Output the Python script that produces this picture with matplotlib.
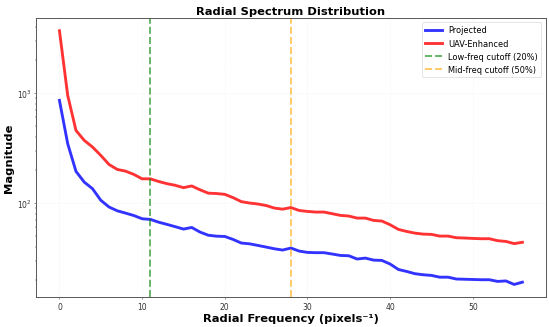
import numpy as np
import matplotlib
matplotlib.use("Agg")
import matplotlib.pyplot as plt

# radial frequency bins
freq = np.arange(57)

projected = [857, 346, 194, 155, 135, 106, 92, 85, 81, 77,
             72, 71, 67, 64, 61, 58, 60, 54.5, 51, 50,
             49.7, 46.7, 43.3, 42.6, 41.2, 39.8, 38.4, 37.4, 39.0, 36.6,
             35.6, 35.4, 35.4, 34.4, 33.4, 33.2, 31.0, 31.6, 30.3, 30.1,
             27.9, 24.9, 23.9, 22.8, 22.3, 22.0, 21.2, 21.2, 20.4, 20.3,
             20.2, 20.1, 20.1, 19.4, 19.6, 18.2, 19.1]

enhanced = [3680, 950, 457, 371, 323, 271, 224, 202, 195, 182,
            166, 166, 157, 150, 145, 138, 143, 132, 123, 122,
            120, 112, 103, 100, 98, 95, 90, 88, 91, 85.6,
            83.9, 82.8, 82.8, 80, 77.2, 76.2, 73, 73, 69.5, 68.6,
            63.5, 57.6, 55.2, 53.3, 52.2, 51.9, 50.1, 50.1, 48.4, 48.1,
            47.7, 47.4, 47.4, 45.5, 44.8, 42.8, 44]

low_cut = 11
mid_cut = 28

fig, ax = plt.subplots(figsize=(12, 7.156), dpi=45.83)

ax.semilogy(freq, projected, color="blue", lw=4.5, alpha=0.8, label="Projected")
ax.semilogy(freq, enhanced, color="red", lw=4.5, alpha=0.8, label="UAV-Enhanced")
ax.axvline(low_cut, color="green", ls="--", lw=3, alpha=0.6, label="Low-freq cutoff (20%)")
ax.axvline(mid_cut, color="orange", ls="--", lw=3, alpha=0.6, label="Mid-freq cutoff (50%)")

ax.set_title("Radial Spectrum Distribution", fontsize=18, fontweight="bold")
ax.set_xlabel("Radial Frequency (pixels\u207b\u00b9)", fontsize=18, fontweight="bold")
ax.set_ylabel("Magnitude", fontsize=18, fontweight="bold")
ax.tick_params(labelsize=12, colors="#333333")
ax.grid(True, alpha=0.3, ls=":")
ax.legend(fontsize=13, loc="upper right")
for s in ax.spines.values():
    s.set_color("#555555")
    s.set_linewidth(1.5)

fig.subplots_adjust(left=0.066, right=0.992, top=0.942, bottom=0.091)
plt.savefig("out.png", dpi=45.83)
